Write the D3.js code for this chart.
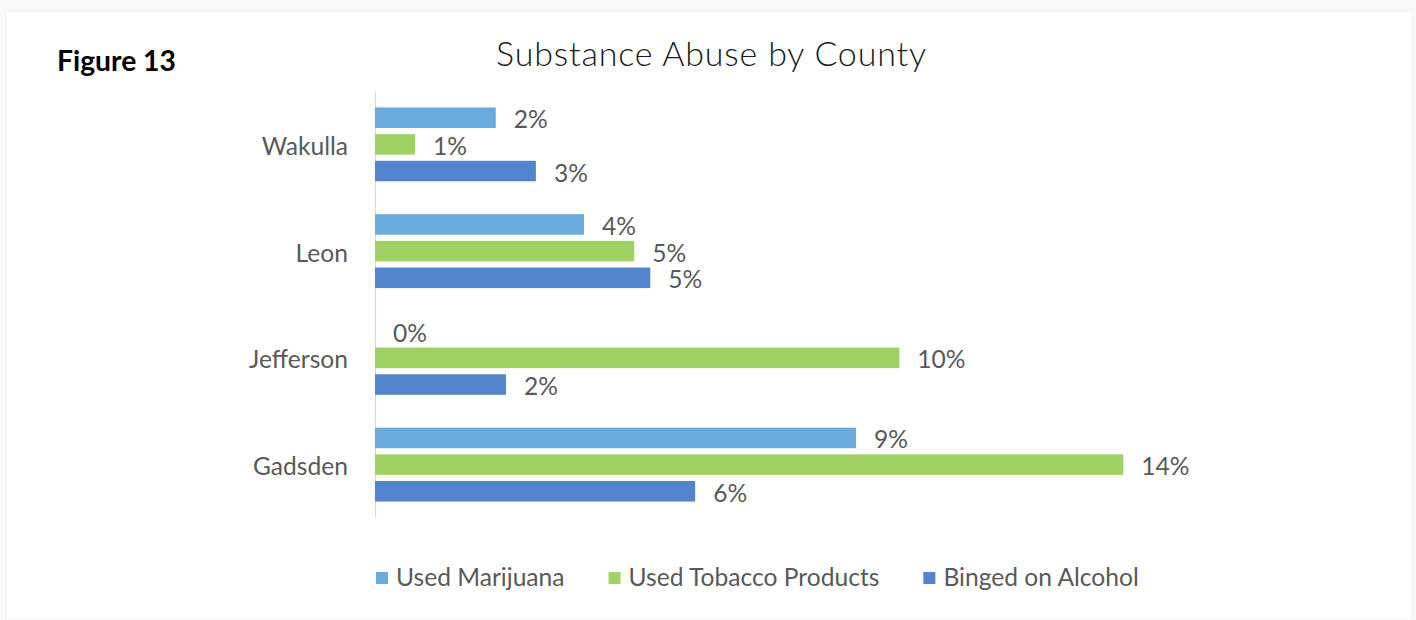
<!DOCTYPE html>
<html>
<head>
<meta charset="utf-8">
<script src="https://cdn.jsdelivr.net/npm/d3@7"></script>
<style>
  html, body { margin: 0; padding: 0; background: #f8f8f8; }
  svg { display: block; }
</style>
</head>
<body>
<svg id="chart" width="1416" height="620"></svg>
<script>
// Share of respondents by county
const counties = ["Wakulla", "Leon", "Jefferson", "Gadsden"];
const seriesNames = ["Used Marijuana", "Used Tobacco Products", "Binged on Alcohol"];
const marijuana = [0.0226, 0.0391, 0.0000, 0.0900];
const tobacco   = [0.0075, 0.0485, 0.0981, 0.1400];
const alcohol   = [0.0301, 0.0515, 0.0245, 0.0599];
const seriesColors = ["#6AABDD", "#9ED363", "#5283CD"];

const seriesValues = [marijuana, tobacco, alcohol];
const rows = counties.map((c, i) => ({
  county: c,
  values: seriesNames.map((s, j) => ({ series: s, value: seriesValues[j][i] }))
}));

const svg = d3.select("#chart");
const FONT = "Lato, 'Open Sans', sans-serif";
const TEXT = "#595959";

// Measure a string at a given size so text can be sized to a target width
function measure(str, size, weight) {
  const t = svg.append("text")
    .attr("font-family", FONT).attr("font-size", size)
    .attr("font-weight", weight || 400).text(str);
  const w = t.node().getComputedTextLength();
  t.remove();
  return w;
}
function fitSize(str, width, weight) {
  return 40 * width / measure(str, 40, weight);
}

// White card on a light page
svg.append("rect")
  .attr("x", 6).attr("y", 11).attr("width", 1406).attr("height", 609)
  .attr("fill", "#ffffff")
  .attr("stroke", "#f0f0f0").attr("stroke-width", 1);

// Headings
svg.append("text")
  .attr("x", 57).attr("y", 70.5)
  .attr("font-family", FONT).attr("font-weight", 700)
  .attr("font-size", fitSize("Figure 13", 119, 700))
  .attr("fill", "#000").text("Figure 13");

svg.append("text")
  .attr("x", 496).attr("y", 66)
  .attr("font-family", FONT).attr("font-weight", 300)
  .attr("font-size", 34)
  .attr("textLength", 430).attr("lengthAdjust", "spacing")
  .attr("fill", "#1a1a1a").text("Substance Abuse by County");

// Scales
const labelSize = fitSize("Used Tobacco Products", 251, 400);
const x = d3.scaleLinear().domain([0, 0.16]).range([375, 375 + 16 * 53.45]);
const y = d3.scaleBand().domain(counties).range([91, 518]).padding(0);
const inner = d3.scaleBand().domain(seriesNames)
  .range([y.bandwidth() / 2 - 40, y.bandwidth() / 2 + 40])
  .paddingInner(0.23).paddingOuter(0.115);
const color = d3.scaleOrdinal().domain(seriesNames).range(seriesColors);
const fmt = d3.format(".0%");

// Category axis (line only, no ticks)
const yAxis = d3.axisLeft(y).tickSize(0).tickPadding(27);
const gy = svg.append("g").attr("transform", `translate(${x(0)},0)`).call(yAxis);
gy.select(".domain").attr("stroke", "#d9d9d9").attr("stroke-width", 1.2);
gy.selectAll(".tick text")
  .attr("font-family", FONT).attr("font-size", labelSize)
  .attr("fill", TEXT).attr("dy", null)
  .attr("dominant-baseline", "auto")
  .attr("y", 10.5);

// Bars
const groups = svg.append("g").selectAll("g.county")
  .data(rows).join("g")
  .attr("class", "county")
  .attr("transform", d => `translate(0,${y(d.county)})`);

groups.selectAll("rect")
  .data(d => d.values).join("rect")
  .attr("x", x(0))
  .attr("y", d => inner(d.series))
  .attr("width", d => x(d.value) - x(0))
  .attr("height", inner.bandwidth())
  .attr("fill", d => color(d.series));

groups.selectAll("text.value")
  .data(d => d.values).join("text")
  .attr("class", "value")
  .attr("x", d => x(d.value) + 18)
  .attr("y", d => inner(d.series) + inner.bandwidth() / 2 + 10.5)
  .attr("font-family", FONT).attr("font-size", labelSize)
  .attr("fill", TEXT)
  .text(d => fmt(d.value));

// Legend
const legend = svg.append("g");
let lx = 376;
seriesNames.forEach(s => {
  legend.append("rect")
    .attr("x", lx).attr("y", 572).attr("width", 12).attr("height", 12)
    .attr("fill", color(s));
  legend.append("text")
    .attr("x", lx + 20).attr("y", 586)
    .attr("font-family", FONT).attr("font-size", labelSize)
    .attr("fill", TEXT).text(s);
  lx += 20 + measure(s, labelSize, 400) + 44;
});
</script>
</body>
</html>
